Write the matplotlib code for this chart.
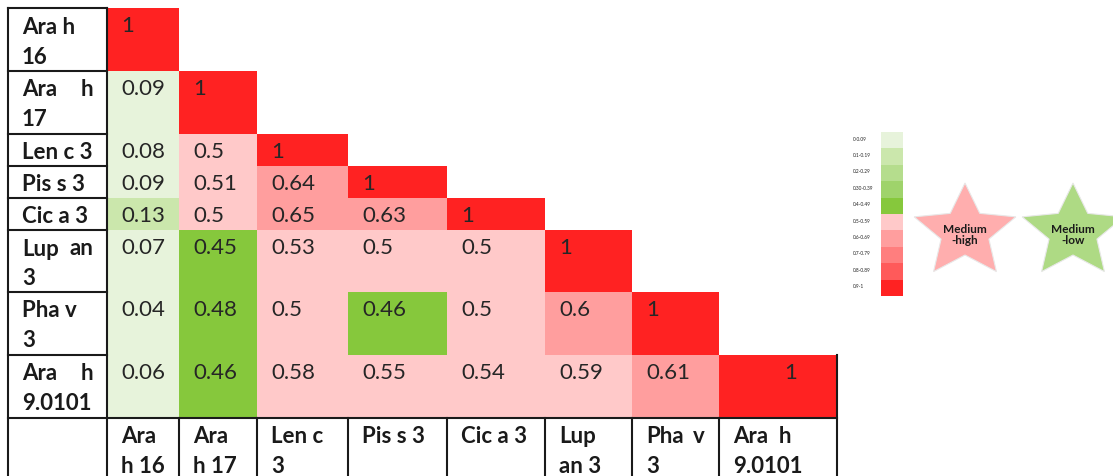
import numpy as np
import matplotlib
matplotlib.use("Agg")
import matplotlib.pyplot as plt
from matplotlib.colors import ListedColormap, BoundaryNorm
from matplotlib.patches import Polygon

plt.rcParams['font.family'] = ['Lato', 'DejaVu Sans']

# ---------------- data ----------------
row_label_lines = [["Ara h", "16"], ["Ara h", "17"], ["Len c 3"], ["Pis s 3"], ["Cic a 3"],
                   ["Lup an", "3"], ["Pha v", "3"], ["Ara h", "9.0101"]]
row_label_justify = [False, True, False, False, False, True, False, True]
col_label_lines = [["Ara", "h 16"], ["Ara", "h 17"], ["Len c", "3"], ["Pis s 3"], ["Cic a 3"],
                   ["Lup", "an 3"], ["Pha v", "3"], ["Ara  h", "9.0101"]]
col_label_justify = [False, False, False, False, False, False, True, False]

row0 = [1]
row1 = [0.09, 1]
row2 = [0.08, 0.5, 1]
row3 = [0.09, 0.51, 0.64, 1]
row4 = [0.13, 0.5, 0.65, 0.63, 1]
row5 = [0.07, 0.45, 0.53, 0.5, 0.5, 1]
row6 = [0.04, 0.48, 0.5, 0.46, 0.5, 0.6, 1]
row7 = [0.06, 0.46, 0.58, 0.55, 0.54, 0.59, 0.61, 1]
rows = [row0, row1, row2, row3, row4, row5, row6, row7]

bin_edges = [0, 0.1, 0.2, 0.3, 0.4, 0.5, 0.6, 0.7, 0.8, 0.9, 1.0001]
bin_labels = ["0-0.09", "0.1-0.19", "0.2-0.29", "0.30-0.39", "0.4-0.49",
              "0.5-0.59", "0.6-0.69", "0.7-0.79", "0.8-0.89", "0.9-1"]
bin_colors = ["#E7F3DB", "#CBE7AC", "#B5DD8D", "#9FD36B", "#86C83C",
              "#FFC9C9", "#FF9E9E", "#FF7E7E", "#FF5A5A", "#FF2222"]
star_labels = ["Medium\n-high", "Medium\n-low"]
star_colors = ["#FFAEAE", "#AEDA84"]

# ---------------- layout (pixel space) ----------------
W, H = 1113, 477
x_edges = np.array([107, 179, 257, 348, 447, 545, 632, 719, 837])
y_edges = np.array([9, 72, 135, 167, 199, 231, 293, 356, 419])
label_left = 8
bottom_row_end = 480
pad = 14
lw = 1.5
fs = 16

fig = plt.figure(figsize=(W / 100, H / 100), dpi=100)
ax = fig.add_axes([0, 0, 1, 1])
ax.set_xlim(0, W)
ax.set_ylim(H, 0)
ax.axis("off")

cmap = ListedColormap(bin_colors)
norm = BoundaryNorm(bin_edges, cmap.N)

n = len(rows)
mat = np.full((n, n), np.nan)
for i, r in enumerate(rows):
    mat[i, :len(r)] = r
ax.pcolormesh(x_edges, y_edges, np.ma.masked_invalid(mat), cmap=cmap, norm=norm,
              shading="flat", zorder=1)

# values
for i, r in enumerate(rows):
    for j, v in enumerate(r):
        txt = f"{v:g}"
        if j == n - 1:
            ax.text(x_edges[j + 1] - 40, y_edges[i] + 17, txt, ha="right", va="center",
                    fontsize=fs, color="#262626", zorder=3)
        else:
            ax.text(x_edges[j] + pad, y_edges[i] + 17, txt, ha="left", va="center",
                    fontsize=fs, color="#262626", zorder=3)


def draw_label(lines, justify, left, right, top):
    for k, line in enumerate(lines):
        y = top + 18 + 30 * k
        if justify and k == 0 and " " in line:
            words = line.split()
            ax.text(left + pad, y, words[0], ha="left", va="center", fontsize=fs,
                    fontweight="bold", color="#1a1a1a", zorder=3)
            ax.text(right - pad, y, words[-1], ha="right", va="center", fontsize=fs,
                    fontweight="bold", color="#1a1a1a", zorder=3)
        else:
            ax.text(left + pad, y, line, ha="left", va="center", fontsize=fs,
                    fontweight="bold", color="#1a1a1a", zorder=3)


# row labels
for i in range(n):
    draw_label(row_label_lines[i], row_label_justify[i], label_left, x_edges[0], y_edges[i])
# column labels
for j in range(n):
    draw_label(col_label_lines[j], col_label_justify[j], x_edges[j], x_edges[j + 1], y_edges[-1])

# borders
kw = dict(color="#1a1a1a", lw=lw, zorder=4, solid_capstyle="projecting")
ax.plot([label_left, label_left], [y_edges[0], bottom_row_end], **kw)
ax.plot([x_edges[0], x_edges[0]], [y_edges[0], bottom_row_end], **kw)
for y in y_edges[:-1]:
    ax.plot([label_left, x_edges[0]], [y, y], **kw)
ax.plot([label_left, x_edges[-1]], [y_edges[-1], y_edges[-1]], **kw)
for x in x_edges[1:-1]:
    ax.plot([x, x], [y_edges[-1], bottom_row_end], **kw)
ax.plot([x_edges[-1], x_edges[-1]], [y_edges[-2], bottom_row_end], **kw)

# legend color bins
leg_x0, leg_x1 = 881, 903
leg_edges = np.linspace(133, 297, len(bin_colors) + 1)
ax.pcolormesh([leg_x0, leg_x1], leg_edges,
              np.array([[(bin_edges[k] + bin_edges[k + 1]) / 2] for k in range(len(bin_colors))]),
              cmap=cmap, norm=norm, shading="flat", zorder=1)
for k, lab in enumerate(bin_labels):
    ax.text(853, (leg_edges[k] + leg_edges[k + 1]) / 2 - 2, lab, ha="left", va="center",
            fontsize=3.4, color="#222222")


# stars
def star(cx, cy, rx, ry, inner=0.47):
    pts = []
    for k in range(10):
        ang = np.deg2rad(90 + 36 * k)
        f = 1.0 if k % 2 == 0 else inner
        pts.append((cx + rx * f * np.cos(ang), cy - ry * f * np.sin(ang)))
    return np.array(pts)


star_cx = [965, 1073]
for cx, lab, col in zip(star_cx, star_labels, star_colors):
    p = Polygon(star(cx, 233, 53.5, 49), closed=True, facecolor=col,
                edgecolor="#e8e8e8", lw=0.8, zorder=2)
    ax.add_patch(p)
    ax.text(cx, 235, lab, ha="center", va="center", fontsize=8.5, fontweight="bold",
            color="#1a1a1a", zorder=3, linespacing=1.05)

fig.savefig("out.png", dpi=100)
